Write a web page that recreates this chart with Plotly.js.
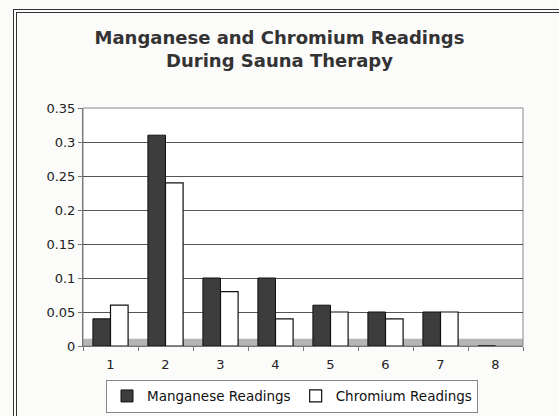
<!DOCTYPE html>
<html>
<head>
<meta charset="utf-8">
<script src="https://cdn.plot.ly/plotly-3.0.1.min.js"></script>
<style>
  html, body { margin: 0; padding: 0; background: #fbfbfa; }
  #wrap { position: relative; width: 559px; height: 416px; overflow: hidden; }
  #chart { width: 559px; height: 416px; }
  #frame { position: absolute; left: 13px; top: 9px; width: 560px; height: 430px;
           border-left: 4px double #333; border-top: 4px double #333; pointer-events: none; }
</style>
</head>
<body>
<div id="wrap">
  <div id="chart"></div>
  <div id="frame"></div>
</div>
<script>
const categories = ['1', '2', '3', '4', '5', '6', '7', '8'];
const manganese = [0.04, 0.31, 0.10, 0.10, 0.06, 0.05, 0.05, 0];
const chromium = [0.06, 0.24, 0.08, 0.04, 0.05, 0.04, 0.05, null];
const yTicks = [0, 0.05, 0.1, 0.15, 0.2, 0.25, 0.3, 0.35];
const yTickLabels = ['0', '0.05', '0.1', '0.15', '0.2', '0.25', '0.3', '0.35'];

const traces = [
  {
    type: 'bar', name: 'Manganese Readings', x: categories, y: manganese,
    marker: { color: '#3d3d3d', line: { color: '#111', width: 1 } }
  },
  {
    type: 'bar', name: 'Chromium Readings', x: categories, y: chromium,
    marker: { color: '#ffffff', line: { color: '#111', width: 1.2 } }
  }
];

const layout = {
  width: 559, height: 416,
  paper_bgcolor: 'rgba(0,0,0,0)',
  plot_bgcolor: '#ffffff',
  margin: { l: 83, r: 36, t: 108, b: 70 },
  barmode: 'group',
  bargap: 0.36,
  bargroupgap: 0,
  title: {
    text: '<b>Manganese and Chromium Readings<br>During Sauna Therapy</b>',
    font: { family: 'DejaVu Sans, Verdana, sans-serif', size: 18, color: '#333' },
    x: 0.5, xanchor: 'center', y: 0.895, yanchor: 'top'
  },
  xaxis: {
    type: 'category', automargin: false,
    tickfont: { family: 'DejaVu Sans, Verdana, sans-serif', size: 13, color: '#222' },
    showgrid: false, zeroline: false,
    showline: true, linecolor: '#777', linewidth: 1,
    ticks: 'outside', ticklen: 4, tickcolor: '#777',
    tickson: 'boundaries', ticklabelstandoff: 6
  },
  yaxis: {
    range: [0, 0.35], automargin: false,
    tickvals: yTicks, ticktext: yTickLabels,
    tickfont: { family: 'DejaVu Sans, Verdana, sans-serif', size: 13, color: '#222' },
    showgrid: true, gridcolor: '#555', gridwidth: 1,
    zeroline: false,
    showline: true, linecolor: '#777', linewidth: 1,
    ticks: 'outside', ticklen: 4, tickcolor: '#777'
  },
  legend: {
    orientation: 'h', x: 0.475, xanchor: 'center',
    yref: 'container', y: 0.008, yanchor: 'bottom',
    font: { family: 'DejaVu Sans, Verdana, sans-serif', size: 13.5, color: '#111' },
    bordercolor: '#888', borderwidth: 1, bgcolor: '#fff',
    itemwidth: 30, traceorder: 'normal', tracegroupgap: 0
  },
  shapes: [
    { type: 'rect', xref: 'paper', yref: 'paper', x0: 0, x1: 1, y0: 0, y1: 0.03,
      fillcolor: '#b5b5b5', line: { width: 0 }, layer: 'below' },
    { type: 'rect', xref: 'paper', yref: 'paper', x0: 0, x1: 1, y0: 0, y1: 1,
      line: { color: '#888', width: 1 }, fillcolor: 'rgba(0,0,0,0)', layer: 'below' }
  ],
  showlegend: true
};

Plotly.newPlot('chart', traces, layout, { displayModeBar: false, staticPlot: true });
</script>
</body>
</html>
